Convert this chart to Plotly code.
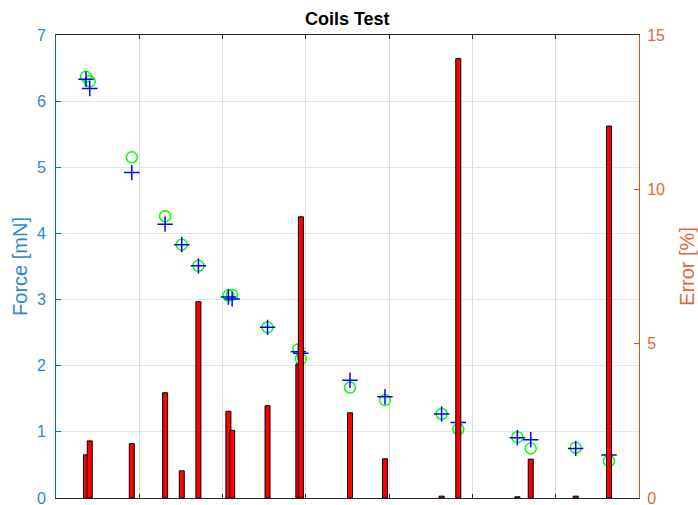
import plotly.graph_objects as go

x_pos = [0.36, 0.405, 0.91, 1.31, 1.51, 1.71, 2.07, 2.115, 2.54, 2.91, 2.94,
         3.53, 3.95, 4.63, 4.83, 5.54, 5.70, 6.24, 6.64]
force_meas = [6.33, 6.19, 4.92, 4.14, 3.83, 3.51, 3.04, 3.01, 2.58, 2.21, 2.19,
              1.78, 1.53, 1.27, 1.14, 0.91, 0.88, 0.75, 0.65]
force_ref = [6.37, 6.30, 5.15, 4.26, 3.83, 3.51, 3.06, 3.07, 2.58, 2.25, 2.10,
             1.67, 1.48, 1.27, 1.04, 0.92, 0.75, 0.76, 0.56]
error_pct = [1.40, 1.85, 1.76, 3.41, 0.88, 6.36, 2.81, 2.19, 2.99, 4.34, 9.11,
             2.76, 1.27, 0.06, 14.24, 0.04, 1.26, 0.06, 12.05]

BLUE_AX = "#0072BD"
ORANGE_AX = "#D95319"

fig = go.Figure()
fig.add_trace(go.Scatter(
    x=x_pos, y=force_ref, mode="markers", yaxis="y",
    marker=dict(symbol="circle-open", size=11, color="#00ff00",
                line=dict(width=1.5, color="#00ff00")),
    showlegend=False))
fig.add_trace(go.Scatter(
    x=x_pos, y=force_meas, mode="markers", yaxis="y",
    marker=dict(symbol="cross-thin", size=11, color="#0000ff",
                line=dict(width=1.5, color="#0000ff")),
    showlegend=False))
fig.add_trace(go.Bar(
    x=x_pos, y=error_pct, yaxis="y2", width=0.06,
    marker=dict(color="#ff0000", line=dict(color="#000000", width=1)),
    showlegend=False))

fig.update_layout(
    width=698, height=505,
    margin=dict(l=56, r=59, t=35, b=7, autoexpand=False),
    paper_bgcolor="white", plot_bgcolor="white",
    font=dict(family="Liberation Sans, Arial, sans-serif"),
    title=dict(text="<b>Coils Test</b>", x=0.4975, xanchor="center",
               y=0.963, yanchor="middle",
               font=dict(size=18, color="#000000")),
    barmode="overlay",
    xaxis=dict(range=[0, 7], dtick=1, showticklabels=False,
               showgrid=True, gridcolor="#dcdcdc", gridwidth=1,
               showline=True, linecolor="#262626", linewidth=1,
               mirror="ticks", ticks="inside", ticklen=4,
               tickcolor="#262626", zeroline=False, automargin=False),
    yaxis=dict(range=[0, 7], dtick=1, showgrid=True,
               gridcolor="#d8e7f5", gridwidth=1,
               showline=True, linecolor=BLUE_AX, linewidth=1,
               ticks="inside", ticklen=5, tickcolor=BLUE_AX,
               tickfont=dict(size=16, color="#2f86c8"),
               ticklabelstandoff=6, ticklabeloverflow="allow",
               zeroline=False, automargin=False,
               title=dict(text="Force [mN]", standoff=3,
                          font=dict(size=20, color="#2f86c8"))),
    yaxis2=dict(range=[0, 15], dtick=5, overlaying="y", side="right",
                showgrid=False, showline=True, linecolor=ORANGE_AX,
                linewidth=1, ticks="inside", ticklen=5, tickcolor=ORANGE_AX,
                tickfont=dict(size=16, color="#e0683a"),
                ticklabelstandoff=4, ticklabeloverflow="allow",
                zeroline=False, automargin=False,
                title=dict(text="Error [%]", standoff=16,
                           font=dict(size=20, color="#e0683a"))),
)

fig.write_html("out.html")
